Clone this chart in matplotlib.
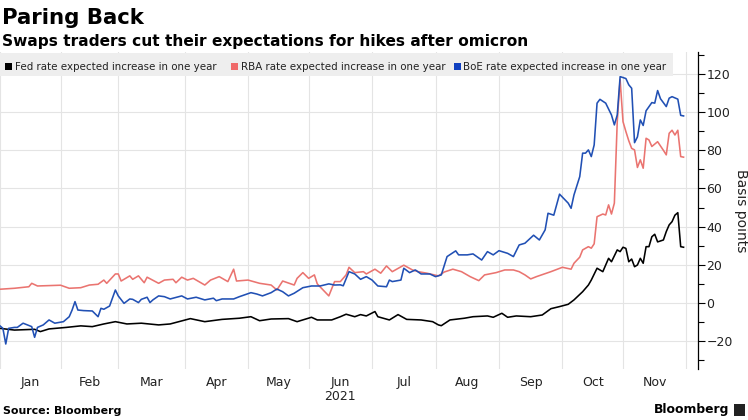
import matplotlib
matplotlib.use("Agg")
import matplotlib.pyplot as plt
import numpy as np
import pandas as pd
from matplotlib.patches import Rectangle

# ---------------- data (x = business-day index from 2021-01-01) ----------------
fed_x = [0,5,12,14,17,23,28,32,36,40,44,49,55,59,66,71,77,83,87,90,94,100,103,108,110,115,118,120,123,125,
         127,130,131,135,138,141,146,150,152,153,156,161,164,169,171,174,176,179,184,188,191,194,197,199,202,204,205,207,209,211,
         212,214,215,216,217,218,219,220,221,222,223,224,225,226,227,228,230,231,232,233,234,235,236,237]
fed_y = [-13.3,-14.2,-13.8,-15,-13.6,-12.8,-12,-12.4,-11,-9.8,-11,-10.6,-11.5,-11,-8.2,-9.8,-8.6,-8,-7.2,-9.3,
         -8.4,-8.2,-9.8,-7.5,-8.9,-8.9,-7.2,-5.9,-7.2,-6.1,-6.8,-4.5,-7.2,-8.9,-6.1,-8.6,-8.9,-9.8,-11.5,-11.9,
         -8.9,-8,-7.2,-6.8,-7.5,-5.4,-7.5,-6.8,-7.2,-6.3,-3,-1.9,-0.7,1.6,5.9,9.4,12,18.2,16.4,23.4,
         21.6,27.8,26.9,29.2,28.6,21.6,23,19,19.9,23.4,20.8,29.5,29.5,34.7,36,32,33,37.4,40.9,42.6,46,47.3,29.5,29.2]

rba_x = [0,5,10,11,13,17,21,24,28,31,34,36,37,40,41,42,45,46,48,50,51,55,57,60,61,63,65,67,71,73,
         76,79,81,82,86,90,94,96,98,102,103,105,107,109,110,114,116,118,120,121,123,126,127,130,132,134,136,140,143,145,
         148,152,154,157,160,163,166,168,172,175,178,180,182,184,186,191,195,198,199,201,202,204,205,206,207,209,210,211,212,213,
         214,215,216,217,218,219,220,221,222,223,224,225,226,228,230,231,232,233,234,235,236,237]
rba_y = [7.2,7.7,8.5,10.3,8.9,9.1,9.3,7.7,8,9.4,9.8,12,10.3,15.2,15.2,11.5,14.2,12.4,14.2,10.6,
         13.5,10.3,12,12.4,10.6,13.5,12,12.9,9.4,12,13.8,11.2,17.7,11.5,12,10.3,9.4,6.8,11.5,9.4,
         12.9,15.9,12.9,14.7,10,3.7,11.2,11.2,14.7,18.7,15.9,16.4,15.2,17.7,15.6,19.4,16.4,19.8,17.3,16.4,
         15.6,14.2,16.2,17.7,16.4,13.8,11.7,14.7,15.9,17.3,17.3,16.4,14.7,12.6,13.8,16.4,18.7,17.7,20.8,24,
         27.8,29.5,28.7,31,45.2,46.6,46.1,51.4,46.6,52.3,95,117,95,89.8,85,81,80.2,71,75,70.6,
         86.3,85.4,82,84.5,80,77.6,88.9,90.5,88,90.5,76.7,76.4]

boe_x = [0,1,2,3,5,6,8,11,12,13,15,17,19,22,24,25,26,27,29,32,34,35,36,38,40,41,43,45,46,48,
         49,51,52,53,55,57,59,63,65,68,71,74,75,77,81,83,87,89,91,94,96,98,100,102,105,108,111,114,116,118,
         119,121,123,125,127,129,131,134,135,136,139,140,142,144,146,149,151,153,155,158,159,162,164,167,169,171,173,176,178,180,
         182,185,187,189,190,192,194,197,198,199,201,202,203,204,205,206,207,208,210,212,213,214,215,217,218,219,220,221,222,223,
         224,226,227,228,229,231,232,233,235,236,237]
boe_y = [-12,-13.3,-21.5,-13.3,-12.8,-12.8,-10.6,-12.4,-18,-12.8,-11.5,-8.9,-10.6,-9.8,-7.2,-3.7,0.7,-3.7,-4,-4.2,
         -7.2,-2.8,-3.3,-1.6,6.8,3.7,-0.2,2.1,1.9,0.2,1.9,3,0.2,1.6,3.7,3.3,2.1,3.7,2.1,3,
         1.6,2.5,1.2,2.1,2.1,3.3,5.4,4.7,3.7,5.4,7.3,5.9,3.7,5.1,8,8.9,8.9,10,9.4,9.5,
         9,16.4,15.2,12.4,13.8,12,8.9,8.5,12,11.2,12,18.2,15.9,17.3,15.2,15.2,13.8,14.7,24.3,27.3,
         25.2,25.2,25.7,22.5,26.9,25.2,27.4,26,24.3,30.4,31.3,35.5,33,38.3,47,46,57,52.3,49.6,56.6,
         66.2,78.5,78.5,80.2,76.7,82.8,104.7,106.7,104.7,98.5,93.3,98.5,118.6,117.6,114.3,112.5,84,87,95.9,93,
         100.7,105,104.7,111.3,107,102.9,107.3,108.1,106.8,98.3,98]

series_labels = ["Fed rate expected increase in one year",
                 "RBA rate expected increase in one year",
                 "BoE rate expected increase in one year"]
series_colors = ["#000000", "#ea7470", "#2150b4"]
legend_colors = ["#000000", "#f06a6a", "#1040c0"]
month_labels = ["Jan", "Feb", "Mar", "Apr", "May", "Jun", "Jul", "Aug", "Sep", "Oct", "Nov"]
year_label = "2021"
y_ticks = [-20, 0, 20, 40, 60, 80, 100, 120]

# ---------------- business-day calendar for the x axis ----------------
bdays = pd.bdate_range("2021-01-01", "2021-12-01")
month_start = [int(np.argmax(bdays.month == m)) for m in range(1, 12)] + [len(bdays) - 1]
month_mid = [(month_start[i] + month_start[i + 1]) / 2 for i in range(11)]

W, H = 748, 420
fig = plt.figure(figsize=(W / 100, H / 100), dpi=100)
ax = fig.add_axes([0, 51 / H, 698 / W, 317 / H])
ax.patch.set_alpha(0)

for xs, ys, c in zip([fed_x, rba_x, boe_x], [fed_y, rba_y, boe_y], series_colors):
    ax.plot(xs, ys, color=c, lw=1.15, solid_joinstyle="round", zorder=3)

ax.set_xlim(0, 242)
ax.set_ylim(-34.6, 131.5)

# axes & ticks
for s in ["top", "left", "bottom"]:
    ax.spines[s].set_visible(False)
ax.spines["right"].set_color("#000000")
ax.spines["right"].set_linewidth(0.9)
ax.yaxis.tick_right()
ax.set_yticks(y_ticks)
ax.set_yticks(np.arange(-30, 131, 10), minor=True)
ax.tick_params(axis="y", which="major", length=5, width=0.8, direction="out",
               labelsize=9, labelcolor="#222222", pad=1)
ax.tick_params(axis="y", which="minor", length=4, width=0.8, direction="out")

ax.set_xticks(month_mid)
ax.set_xticklabels(month_labels)
ax.set_xticks(month_start, minor=True)
ax.tick_params(axis="x", which="both", length=0, labelsize=9, labelcolor="#222222", pad=5)

ax.grid(axis="y", which="major", color="#e4e4e4", lw=0.8)
ax.grid(axis="x", which="minor", color="#e4e4e4", lw=0.8)
ax.set_axisbelow(True)

ax.yaxis.set_label_position("right")
ax.set_ylabel("Basis points", rotation=270, fontsize=10, color="#222222", labelpad=11)

fig.text(month_mid[5] / 242 * 698 / W, 1 - 396 / H, year_label, ha="center", va="center",
         fontsize=9, color="#222222")

# legend band
fig.patches.append(Rectangle((0, 1 - 76 / H), 673 / W, 23 / H, transform=fig.transFigure,
                             facecolor="#eeeeee", edgecolor="none", zorder=1))
leg_sq_x = [5, 231, 454]
leg_tx_x = [15, 241, 463]
yc = 1 - 66.5 / H
for sx, tx, lab, c in zip(leg_sq_x, leg_tx_x, series_labels, legend_colors):
    fig.patches.append(Rectangle((sx / W, yc - 3.5 / H), 7 / W, 7 / H, transform=fig.transFigure,
                                 facecolor=c, edgecolor="none", zorder=2))
    fig.text(tx / W, yc, lab, ha="left", va="center", fontsize=7.4, color="#222222", zorder=3)

# titles
fig.text(2 / W, 1 - 24 / H, "Paring Back", ha="left", va="baseline",
         fontsize=15.3, fontweight="bold", color="#000000")
fig.text(2 / W, 1 - 46 / H, "Swaps traders cut their expectations for hikes after omicron",
         ha="left", va="baseline", fontsize=11.1, fontweight="bold", color="#000000")

# footer
fig.text(3 / W, 1 - 411 / H, "Source: Bloomberg", ha="left", va="center",
         fontsize=7.9, fontweight="bold", color="#000000")
fig.text(729 / W, 1 - 410 / H, "Bloomberg", ha="right", va="center",
         fontsize=8.9, fontweight="bold", color="#000000")
fig.patches.append(Rectangle((734 / W, 1 - 416 / H), 11 / W, 12 / H, transform=fig.transFigure,
                             facecolor="#222222", edgecolor="none", zorder=2))

fig.savefig("out.png", dpi=100)
